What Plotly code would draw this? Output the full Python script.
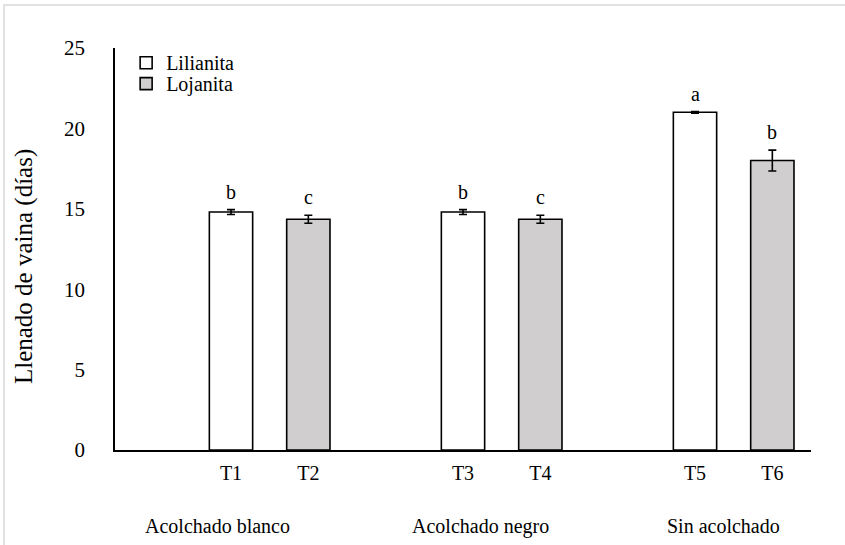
import plotly.graph_objects as go

# Treatment groups and their two varieties
groups = ["Acolchado blanco", "Acolchado negro", "Sin acolchado"]
varieties = ["Lilianita", "Lojanita"]
treatments = ["T1", "T2", "T3", "T4", "T5", "T6"]

# Mean pod-filling time (days) and standard error, per treatment
lilianita_vals = [14.8, 14.8, 21.0]
lojanita_vals = [14.35, 14.35, 18.0]
lilianita_err = [0.15, 0.15, 0.05]
lojanita_err = [0.25, 0.25, 0.65]

# Significance letters (T1..T6)
letters = ["b", "c", "b", "c", "a", "b"]

FONT = "Liberation Serif"
colors = ["#ffffff", "#d0cece"]

# Each group occupies three slots: a blank one followed by the two varieties
slot = lambda g, i: 3 * g + 1 + i
lil_x = [slot(g, 0) for g in range(len(groups))]
loj_x = [slot(g, 1) for g in range(len(groups))]

W, H = 845, 545
ml, mr, mt, mb = 115, 34, 48, 95
pw, ph = W - ml - mr, H - mt - mb

fig = go.Figure()
for k, (name, xs, ys, errs, col) in enumerate([
    (varieties[0], lil_x, lilianita_vals, lilianita_err, colors[0]),
    (varieties[1], loj_x, lojanita_vals, lojanita_err, colors[1]),
]):
    fig.add_trace(go.Bar(
        name=name, x=xs, y=ys, width=0.56,
        legend="legend" if k == 0 else "legend2",
        marker=dict(color=col, line=dict(color="black", width=1.6)),
        error_y=dict(type="data", array=errs, visible=True,
                     color="black", thickness=1.6, width=4),
    ))

# Letters above each bar
all_x = [v for pair in zip(lil_x, loj_x) for v in pair]
all_y = [v for pair in zip(lilianita_vals, lojanita_vals) for v in pair]
all_e = [v for pair in zip(lilianita_err, lojanita_err) for v in pair]
for x, y, e, t in zip(all_x, all_y, all_e, letters):
    fig.add_annotation(x=x, y=y + e, text=t, showarrow=False,
                       yanchor="bottom", yshift=5,
                       font=dict(family=FONT, size=20, color="black"))

# Group captions beneath the treatment labels
caption_x = [0.83, 4.23, 7.37]
for cx, label in zip(caption_x, groups):
    fig.add_annotation(x=cx, y=-0.19, xref="x", yref="paper",
                       text=label, showarrow=False, yanchor="middle",
                       font=dict(family=FONT, size=20, color="black"))

# Vertical axis title
fig.add_annotation(x=(24 - ml) / pw, y=0.455, xref="paper", yref="paper",
                   text="Llenado de vaina (días)", textangle=-90,
                   showarrow=False, xanchor="center", yanchor="middle",
                   font=dict(family=FONT, size=25, color="black"))

# Light frame around the whole chart area
fig.add_shape(type="rect", xref="paper", yref="paper",
              x0=(4 - ml) / pw, x1=(W + 10 - ml) / pw,
              y0=-(mb + 10) / ph, y1=(H - mb - 5) / ph,
              line=dict(color="#d9d9d9", width=1.5), fillcolor="rgba(0,0,0,0)",
              layer="below")

legend_style = dict(xanchor="left", yanchor="top", bgcolor="rgba(0,0,0,0)",
                    font=dict(family=FONT, size=20, color="black"))

fig.update_layout(
    width=W, height=H,
    margin=dict(l=ml, r=mr, t=mt, b=mb),
    paper_bgcolor="white", plot_bgcolor="white",
    barmode="overlay",
    font=dict(family=FONT, color="black"),
    showlegend=True,
    legend=dict(x=0.016, y=1.012, **legend_style),
    legend2=dict(x=0.016, y=0.96, **legend_style),
    xaxis=dict(range=[-0.5, 8.5], tickmode="array", tickvals=all_x,
               ticktext=treatments, showline=True, linecolor="black",
               linewidth=1.6, ticks="", showgrid=False, zeroline=False,
               ticklabelstandoff=4,
               tickfont=dict(family=FONT, size=20, color="black")),
    yaxis=dict(range=[0, 25], tickvals=[0, 5, 10, 15, 20, 25],
               showline=True, linecolor="black", linewidth=1.6, ticks="",
               showgrid=False, zeroline=False, ticklabelstandoff=24,
               tickfont=dict(family=FONT, size=21, color="black")),
)

fig.write_html("out.html")
